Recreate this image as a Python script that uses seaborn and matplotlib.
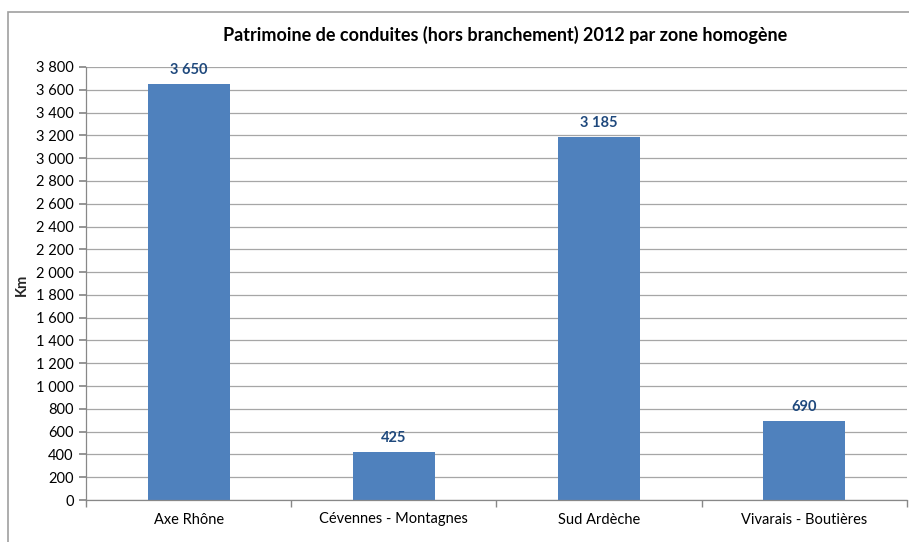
import matplotlib
matplotlib.use("Agg")
import matplotlib.pyplot as plt
import matplotlib.ticker as mticker
from matplotlib.patches import Rectangle
import seaborn as sns
import pandas as pd

categories = ["Axe Rhône", "Cévennes - Montagnes", "Sud Ardèche", "Vivarais - Boutières"]
values = [3650, 425, 3185, 690]
title = "Patrimoine de conduites (hors branchement) 2012 par zone homogène"
ylabel = "Km"

sns.set_theme(style="white")
plt.rcParams['font.family'] = ['Lato', 'DejaVu Sans']

df = pd.DataFrame({"zone": categories, "km": values})

fig = plt.figure(figsize=(9.09, 5.42), dpi=100)
ax = fig.add_axes([86/909, 1-500/542, (907-86)/909, (500-67)/542])

sns.barplot(data=df, x="zone", y="km", color="#4F81BD", width=0.4, ax=ax, saturation=1,
            linewidth=0, edgecolor="none")

ax.set_ylim(0, 3800)
ax.set_xlim(-0.5, 3.5)
ax.yaxis.set_major_locator(mticker.MultipleLocator(200))
ax.yaxis.set_major_formatter(mticker.FuncFormatter(lambda v, p: f"{int(v):,}".replace(",", " ")))
ax.grid(axis="y", color="#A6A6A6", linewidth=0.9)
ax.set_axisbelow(True)
for s in ["top", "right"]:
    ax.spines[s].set_visible(False)
for s in ["left", "bottom"]:
    ax.spines[s].set_color("#888888")
    ax.spines[s].set_linewidth(0.9)

ax.tick_params(axis="y", which="major", left=True, length=5, color="#888888", labelsize=10.5, pad=4, labelcolor="black")
ax.tick_params(axis="x", which="major", bottom=False, length=0, labelsize=10.5, pad=9, labelcolor="black")
ax.set_xticks([-0.5, 0.5, 1.5, 2.5, 3.5], minor=True)
ax.tick_params(axis="x", which="minor", bottom=True, length=5, color="#888888")
ax.set_xlabel("")
ax.set_ylabel("")

for i, v in enumerate(values):
    ax.annotate(f"{v:,}".replace(",", " "), (i, v), xytext=(0, 5), textcoords="offset points",
                ha="center", va="bottom", fontsize=10.5, fontweight="bold", color="#1F497D")

fig.text(505/909, 1-35/542, title, ha="center", va="center", fontsize=13, fontweight="bold", color="black")
fig.text(22/909, 1-285/542, ylabel, ha="center", va="center", rotation=90, fontsize=10.5, fontweight="bold")

fig.patches.append(Rectangle((8/909, -0.05), 1.1, 1.05 - 12/542, transform=fig.transFigure,
                             fill=False, edgecolor="#A0A0A0", linewidth=1.2, zorder=0))

fig.savefig("out.png", dpi=100)
